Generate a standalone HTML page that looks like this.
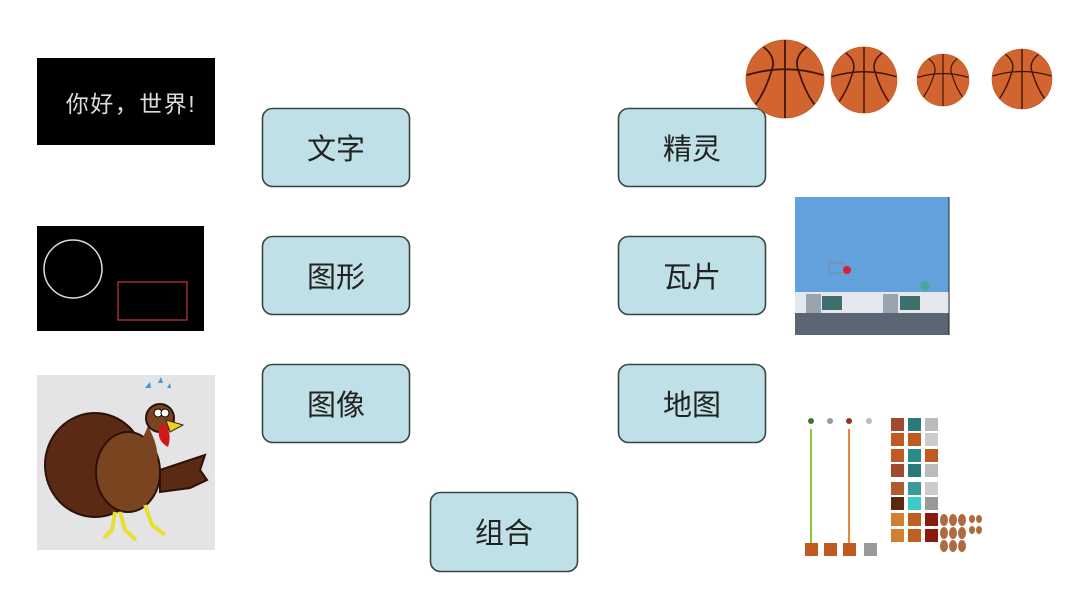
<!DOCTYPE html>
<html><head><meta charset="utf-8"><style>
html,body{margin:0;padding:0;background:#fff;}
svg{display:block;}
.lbl{font-family:"Liberation Sans","Noto Sans CJK SC",sans-serif;font-size:29px;fill:#222;text-anchor:middle;dominant-baseline:central;}
</style></head><body>
<svg width="1092" height="613" viewBox="0 0 1092 613" xmlns="http://www.w3.org/2000/svg">
<defs>
<g id="ball">
<circle cx="0" cy="0" r="1" fill="#d2652f" stroke="#b85a2a" stroke-width="0.02"/>
<g fill="none" stroke="#3b1508" stroke-width="0.045">
<line x1="0" y1="-1" x2="0" y2="1"/>
<path d="M-0.98,-0.1 Q0,-0.4 0.98,-0.1"/>
<path d="M-0.55,-0.82 Q-0.2,-0.55 -0.35,-0.2 Q-0.5,0.3 -0.75,0.65"/>
<path d="M0.55,-0.82 Q0.2,-0.55 0.35,-0.2 Q0.5,0.3 0.75,0.65"/>
</g>
</g>
</defs>
<rect width="1092" height="613" fill="#fff"/>

<rect x="37" y="58" width="178" height="87" fill="#000"/>
<text x="131" y="112" font-family="Liberation Sans,'Noto Sans CJK SC',sans-serif" font-size="23" letter-spacing="1.5" fill="#dcdcdc" text-anchor="middle">你好，世界!</text>

<rect x="37" y="226" width="167" height="105" fill="#000"/>
<circle cx="73" cy="269" r="29" fill="none" stroke="#ddd" stroke-width="1.5"/>
<rect x="118" y="282" width="69" height="38" fill="none" stroke="#c03a3a" stroke-width="1.2"/>

<rect x="37" y="375" width="178" height="175" fill="#e4e4e6"/>
<g>
<ellipse cx="95" cy="465" rx="50" ry="52" fill="#5a2a14" stroke="#2a1208" stroke-width="2"/>
<path d="M160,470 L205,455 L200,470 L207,480 L190,488 L160,492Z" fill="#5a2a14" stroke="#2a1208" stroke-width="2"/>
<ellipse cx="128" cy="472" rx="32" ry="40" fill="#7a4420" stroke="#2a1208" stroke-width="2"/>
<path d="M150,430 Q165,460 150,480 L120,470 Q140,450 150,420Z" fill="#7a4420"/>
<ellipse cx="160" cy="418" rx="14" ry="14" fill="#7a4420" stroke="#2a1208" stroke-width="2"/>
<circle cx="158" cy="413" r="4" fill="#fff" stroke="#000"/>
<circle cx="165" cy="413" r="4" fill="#fff" stroke="#000"/>
<path d="M166,420 L183,425 L170,432Z" fill="#f0d020" stroke="#3a2a00"/>
<path d="M160,425 Q155,440 168,447 Q172,435 166,425Z" fill="#d01818"/>
<path d="M115,512 L112,530 L104,538 M120,512 L125,530 L136,540 M145,505 L152,525 L165,535" stroke="#e8e030" stroke-width="4" fill="none"/>
<path d="M145,388 l5,-6 l1,6Z M158,383 l3,-6 l2,6Z M167,388 l3,-5 l1,5Z" fill="#3c9ad8"/>
</g>

<g fill="#bfe0e6" stroke="#3a4448" stroke-width="1.6">
<rect x="262.5" y="108.5" width="147" height="78" rx="10"/>
<rect x="262.5" y="236.5" width="147" height="78" rx="10"/>
<rect x="262.5" y="364.5" width="147" height="78" rx="10"/>
<rect x="618.5" y="108.5" width="147" height="78" rx="10"/>
<rect x="618.5" y="236.5" width="147" height="78" rx="10"/>
<rect x="618.5" y="364.5" width="147" height="78" rx="10"/>
<rect x="430.5" y="492.5" width="147" height="79" rx="10"/>
</g>
<text class="lbl" x="336" y="150">文字</text>
<text class="lbl" x="336" y="278">图形</text>
<text class="lbl" x="336" y="406">图像</text>
<text class="lbl" x="692" y="150">精灵</text>
<text class="lbl" x="692" y="278">瓦片</text>
<text class="lbl" x="692" y="406">地图</text>
<text class="lbl" x="504" y="534">组合</text>

<use href="#ball" transform="translate(785,79) scale(39)"/>
<use href="#ball" transform="translate(864,80) scale(33)"/>
<use href="#ball" transform="translate(943,80) scale(26)"/>
<use href="#ball" transform="translate(1022,79) scale(30)"/>

<rect x="795" y="197" width="154" height="138" fill="#62a1dc"/>
<rect x="795" y="292" width="154" height="21" fill="#e4e8ec"/>
<rect x="806" y="294" width="15" height="19" fill="#9aa4ae"/>
<rect x="822" y="296" width="20" height="14" fill="#3e6e6e"/>
<rect x="883" y="294" width="15" height="19" fill="#9aa4ae"/>
<rect x="900" y="296" width="20" height="14" fill="#3e6e6e"/>
<rect x="795" y="313" width="154" height="22" fill="#5b6574"/>
<line x1="949" y1="197" x2="949" y2="335" stroke="#222" stroke-width="1"/>
<rect x="829" y="263" width="15" height="10" fill="none" stroke="#888"/>
<circle cx="847" cy="270" r="4" fill="#d82030"/>
<circle cx="925" cy="286" r="5" fill="#44aaa0"/>

<g>
<circle cx="811" cy="421" r="3" fill="#3a7a30"/><circle cx="830" cy="421" r="3" fill="#999"/>
<circle cx="849" cy="421" r="3" fill="#8a3a20"/><circle cx="869" cy="421" r="3" fill="#bbb"/>
<line x1="811" y1="429" x2="811" y2="545" stroke="#8fc040" stroke-width="2"/>
<line x1="849" y1="429" x2="849" y2="545" stroke="#e08a40" stroke-width="2"/>
<rect x="805" y="543" width="13" height="13" fill="#c05a20"/><rect x="824" y="543" width="13" height="13" fill="#c05a20"/>
<rect x="843" y="543" width="13" height="13" fill="#c05a20"/><rect x="864" y="543" width="13" height="13" fill="#999"/>
<g>
<rect x="891" y="418" width="13" height="13" fill="#a04a30"/><rect x="908" y="418" width="13" height="13" fill="#2a7a78"/><rect x="925" y="418" width="13" height="13" fill="#bbb"/>
<rect x="891" y="433" width="13" height="13" fill="#c05a20"/><rect x="908" y="433" width="13" height="13" fill="#c05a20"/><rect x="925" y="433" width="13" height="13" fill="#ccc"/>
<rect x="891" y="449" width="13" height="13" fill="#c05a20"/><rect x="908" y="449" width="13" height="13" fill="#2a8a8a"/><rect x="925" y="449" width="13" height="13" fill="#c05a20"/>
<rect x="891" y="464" width="13" height="13" fill="#a04a30"/><rect x="908" y="464" width="13" height="13" fill="#2a7a78"/><rect x="925" y="464" width="13" height="13" fill="#bbb"/>
<rect x="891" y="482" width="13" height="13" fill="#b05a30"/><rect x="908" y="482" width="13" height="13" fill="#3a9a98"/><rect x="925" y="482" width="13" height="13" fill="#ccc"/>
<rect x="891" y="497" width="13" height="13" fill="#5a2a10"/><rect x="908" y="497" width="13" height="13" fill="#3acaca"/><rect x="925" y="497" width="13" height="13" fill="#999"/>
<rect x="891" y="513" width="13" height="13" fill="#d08030"/><rect x="908" y="513" width="13" height="13" fill="#c06020"/><rect x="925" y="513" width="13" height="13" fill="#8a1a10"/>
<rect x="891" y="529" width="13" height="13" fill="#d08030"/><rect x="908" y="529" width="13" height="13" fill="#c06020"/><rect x="925" y="529" width="13" height="13" fill="#8a1a10"/>
</g>
<g fill="#b06a40">
<ellipse cx="944" cy="520" rx="4" ry="6"/><ellipse cx="953" cy="520" rx="4" ry="6"/><ellipse cx="962" cy="520" rx="4" ry="6"/>
<ellipse cx="944" cy="533" rx="4" ry="6"/><ellipse cx="953" cy="533" rx="4" ry="6"/><ellipse cx="962" cy="533" rx="4" ry="6"/>
<ellipse cx="944" cy="546" rx="4" ry="6"/><ellipse cx="953" cy="546" rx="4" ry="6"/><ellipse cx="962" cy="546" rx="4" ry="6"/>
<ellipse cx="972" cy="519" rx="3" ry="4"/><ellipse cx="979" cy="519" rx="3" ry="4"/>
<ellipse cx="972" cy="530" rx="3" ry="4"/><ellipse cx="979" cy="530" rx="3" ry="4"/>
</g>
</g>
</svg>
</body></html>
